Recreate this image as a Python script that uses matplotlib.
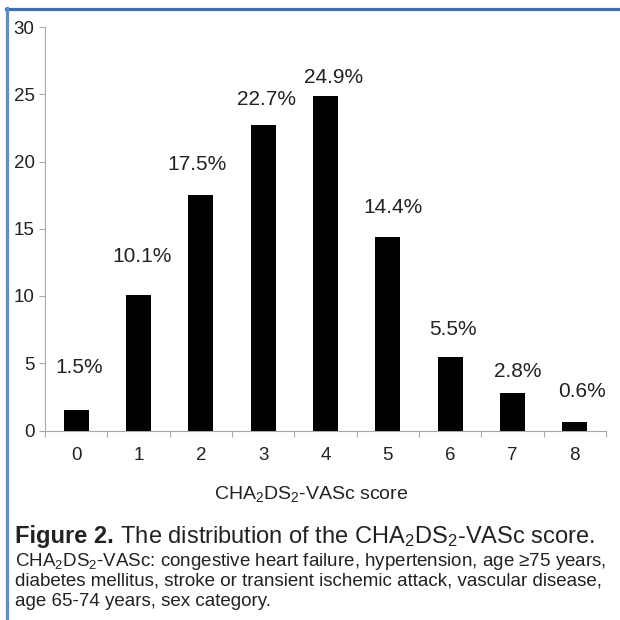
import matplotlib
matplotlib.use('Agg')
import matplotlib.pyplot as plt
from matplotlib.lines import Line2D

plt.rcParams['font.family'] = ['Liberation Sans', 'DejaVu Sans']
plt.rcParams['mathtext.fontset'] = 'custom'
plt.rcParams['mathtext.rm'] = 'Liberation Sans'
plt.rcParams['mathtext.default'] = 'regular'

# Data
scores = ['0', '1', '2', '3', '4', '5', '6', '7', '8']
percent = [1.5, 10.1, 17.5, 22.7, 24.9, 14.4, 5.5, 2.8, 0.6]
pct_labels = ['1.5%', '10.1%', '17.5%', '22.7%', '24.9%', '14.4%', '5.5%', '2.8%', '0.6%']
# where each percentage label sits (data units), as placed in the figure
label_y = [4.68, 12.93, 19.76, 24.59, 26.23, 16.57, 7.50, 4.38, 2.90]
label_dx = [0.05, 0.06, -0.06, 0.05, 0.13, 0.09, 0.05, 0.08, 0.12]
yticks = [0, 5, 10, 15, 20, 25, 30]

grey = '#a8a8a8'
txt = '#222222'

fig = plt.figure(figsize=(6.2, 6.2), dpi=100)
ax = fig.add_axes([45 / 620, 1 - 430.5 / 620, 561 / 620, 403.5 / 620])

x = list(range(len(scores)))
ax.bar(x, percent, width=0.4, color='black', zorder=3)
for i in x:
    ax.text(i + label_dx[i], label_y[i], pct_labels[i], ha='center', va='center',
            fontsize=15, color=txt)

ax.set_xlim(-0.5, len(scores) - 0.5)
ax.set_ylim(0, 30)
ax.set_yticks(yticks)
ax.set_yticklabels([str(t) for t in yticks])
ax.set_xticks(x)
ax.set_xticklabels(scores)
ax.set_xticks([i - 0.5 for i in range(len(scores) + 1)], minor=True)

for s in ['top', 'right']:
    ax.spines[s].set_visible(False)
for s in ['left', 'bottom']:
    ax.spines[s].set_color(grey)
    ax.spines[s].set_linewidth(0.8)

ax.tick_params(axis='x', which='major', length=0, pad=12, labelsize=13.5, labelcolor=txt)
ax.tick_params(axis='x', which='minor', length=4, color=grey, width=0.8)
ax.tick_params(axis='y', which='major', length=4, color=grey, width=0.8, pad=3.5,
               labelsize=13.5, labelcolor=txt)

fig.text(311 / 620, 1 - 494 / 620, r'CHA$_2$DS$_2$-VASc score', ha='center', va='center',
         fontsize=14, color=txt)

# caption
renderer = fig.canvas.get_renderer()
cy1 = 1 - 537 / 620
t1 = fig.text(15 / 620, cy1, 'Figure 2.', fontweight='bold', fontsize=17,
              ha='left', va='center', color=txt)
bb = t1.get_window_extent(renderer)
fig.text(bb.x1 / fig.bbox.width, cy1, r' The distribution of the CHA$_2$DS$_2$-VASc score.',
         fontsize=17, ha='left', va='center', color=txt)

caption = [r'CHA$_2$DS$_2$-VASc: congestive heart failure, hypertension, age ≥75 years,',
           'diabetes mellitus, stroke or transient ischemic attack, vascular disease,',
           'age 65-74 years, sex category.']
for k, line in enumerate(caption):
    fig.text(15 / 620, 1 - (561 + 20 * k) / 620, line, fontsize=13.5,
             ha='left', va='center', color=txt)

# blue frame at top and left
fig.add_artist(Line2D([6 / 620, 1], [1 - 8.5 / 620, 1 - 8.5 / 620],
                      transform=fig.transFigure, color='#3d70a6', lw=2.3))
fig.add_artist(Line2D([7 / 620, 7 / 620], [0, 1 - 7.5 / 620],
                      transform=fig.transFigure, color='#5b8cc2', lw=2.3))

fig.savefig('out.png', dpi=100)
